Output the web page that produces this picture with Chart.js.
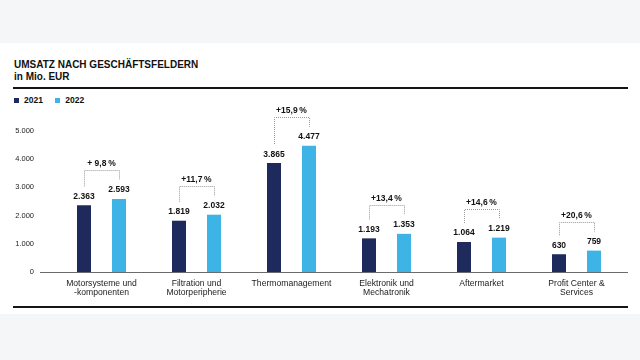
<!DOCTYPE html>
<html>
<head>
<meta charset="utf-8">
<script src="https://cdn.jsdelivr.net/npm/chart.js@4"></script>
<style>
  html, body { margin: 0; padding: 0; }
  body { width: 640px; height: 360px; background: #f5f6f8; position: relative; overflow: hidden;
         font-family: "Liberation Sans", Arial, sans-serif; color: #111; }
  #panel { position: absolute; left: 0; top: 43px; width: 640px; height: 271px; background: #fff; }
  .title { position: absolute; left: 14px; font-weight: bold; font-size: 10px; line-height: 12px; white-space: nowrap; }
  .rule { position: absolute; left: 13px; width: 615px; height: 2px; background: #151515; }
  .legend { position: absolute; top: 95px; left: 14px; font-size: 8.5px; font-weight: bold; line-height: 10px; white-space: nowrap; }
  .legend span.box { display: inline-block; width: 5px; height: 5px; vertical-align: 0px; margin-right: 5px; }
  .legend span.item { margin-right: 10px; }
  canvas { position: absolute; left: 0; top: 0; }
</style>
</head>
<body>
<div id="panel"></div>
<div class="title" style="top:59px">UMSATZ NACH GESCHÄFTSFELDERN</div>
<div class="title" style="top:71px">in Mio. EUR</div>
<div class="rule" style="top:87px"></div>
<div class="legend">
  <span class="item"><span class="box" style="background:#1f2a5c"></span>2021</span>
  <span class="item"><span class="box" style="background:#3db4e5"></span>2022</span>
</div>
<div class="rule" style="top:306px"></div>
<div style="position:absolute;left:0;top:0;width:640px;height:360px">
  <canvas id="umsatzChart" width="640" height="360"></canvas>
</div>
<script>
const categories = [
  ["Motorsysteme und", "-komponenten"],
  ["Filtration und", "Motorperipherie"],
  "Thermomanagement",
  ["Elektronik und", "Mechatronik"],
  "Aftermarket",
  ["Profit Center &", "Services"]
];
const umsatz2021 = [2363, 1819, 3865, 1193, 1064, 630];
const umsatz2022 = [2593, 2032, 4477, 1353, 1219, 759];
const veraenderung = ["+ 9,8\u2009%", "+11,7\u2009%", "+15,9\u2009%", "+13,4\u2009%", "+14,6\u2009%", "+20,6\u2009%"];
const yTicks = [0, 1000, 2000, 3000, 4000, 5000];

const dunkel = '#1f2a5c';
const hell = '#3db4e5';

function formatDE(v) {
    return String(v).replace(/\B(?=(\d{3})+(?!\d))/g, '.');
}

// Werte über den Balken und gestrichelte Klammern mit Veränderung
const labelPlugin = {
    id: 'labelPlugin',
    afterDatasetsDraw(chart) {
        const ctx = chart.ctx;
        const m0 = chart.getDatasetMeta(0);
        const m1 = chart.getDatasetMeta(1);
        ctx.save();
        ctx.fillStyle = '#111';
        ctx.textAlign = 'center';
        ctx.textBaseline = 'alphabetic';
        ctx.font = 'bold 8.5px "Liberation Sans", Arial, sans-serif';
        categories.forEach((c, i) => {
            const b0 = m0.data[i], b1 = m1.data[i];
            ctx.fillText(formatDE(umsatz2021[i]), b0.x, b0.y - 6.5);
            ctx.fillText(formatDE(umsatz2022[i]), b1.x, b1.y - 6.5);
            const top = Math.min(b0.y, b1.y) - 28.5;
            ctx.save();
            ctx.strokeStyle = '#9a9a9a';
            ctx.lineWidth = 1;
            ctx.setLineDash([1, 1]);
            ctx.beginPath();
            ctx.moveTo(Math.round(b0.x) + 0.5, b0.y - 19);
            ctx.lineTo(Math.round(b0.x) + 0.5, Math.round(top) + 0.5);
            ctx.lineTo(Math.round(b1.x) + 0.5, Math.round(top) + 0.5);
            ctx.lineTo(Math.round(b1.x) + 0.5, b1.y - 19);
            ctx.stroke();
            ctx.restore();
            ctx.fillText(veraenderung[i], (b0.x + b1.x) / 2, top - 4);
        });
        // Nulllinie
        const y0 = Math.round(chart.scales.y.getPixelForValue(0)) + 0.5;
        ctx.strokeStyle = '#6b6b6b';
        ctx.lineWidth = 1;
        ctx.beginPath();
        ctx.moveTo(40, y0);
        ctx.lineTo(628, y0);
        ctx.stroke();
        ctx.restore();
    }
};

new Chart(document.getElementById('umsatzChart').getContext('2d'), {
    type: 'bar',
    data: {
        labels: categories,
        datasets: [
            { label: '2021', data: umsatz2021, backgroundColor: dunkel, categoryPercentage: 0.737, barPercentage: 0.4 },
            { label: '2022', data: umsatz2022, backgroundColor: hell, categoryPercentage: 0.737, barPercentage: 0.4 }
        ]
    },
    options: {
        responsive: false,
        animation: false,
        devicePixelRatio: 1,
        layout: { padding: { left: 14, right: 16, top: 131, bottom: 58 } },
        plugins: {
            legend: { display: false },
            tooltip: { enabled: false }
        },
        scales: {
            x: {
                grid: { display: false, drawTicks: false },
                border: { display: false },
                ticks: {
                    color: '#222',
                    padding: 7,
                    maxRotation: 0,
                    autoSkip: false,
                    font: { family: '"Liberation Sans", Arial, sans-serif', size: 8.6, lineHeight: 1.08 }
                },
                afterFit(scale) { scale.height = 30; }
            },
            y: {
                min: 0,
                max: 5000,
                afterBuildTicks(scale) { scale.ticks = yTicks.map(v => ({ value: v })); },
                grid: { display: false, drawTicks: false },
                border: { display: false },
                ticks: {
                    color: '#222',
                    padding: 20,
                    font: { family: '"Liberation Sans", Arial, sans-serif', size: 7.5 },
                    callback: v => formatDE(v)
                },
                afterFit(scale) { scale.width = 40; }
            }
        }
    },
    plugins: [labelPlugin]
});
</script>
</body>
</html>
